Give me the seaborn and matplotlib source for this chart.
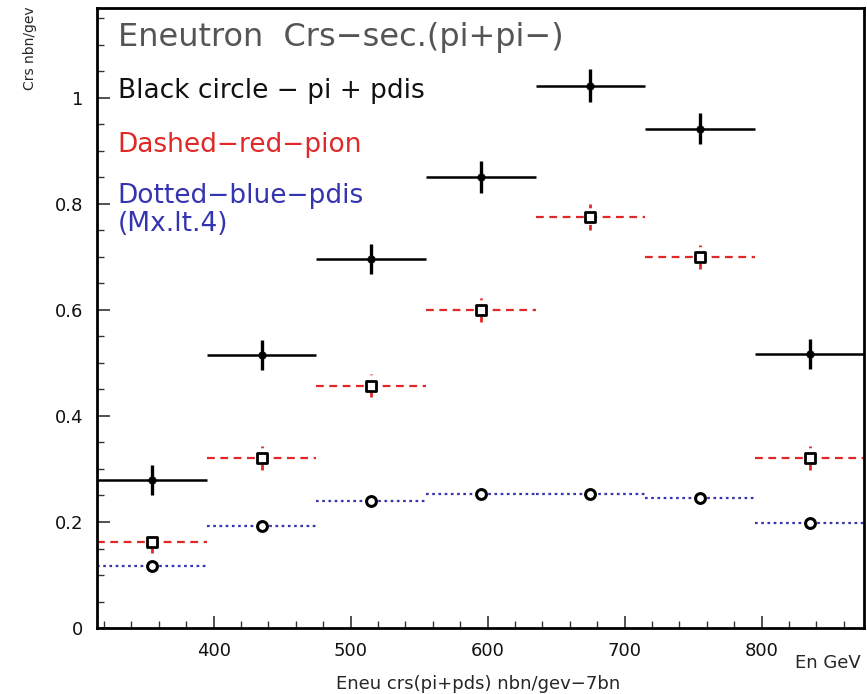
import numpy as np
import pandas as pd
import matplotlib
matplotlib.use("Agg")
import matplotlib.pyplot as plt
import seaborn as sns
from matplotlib.ticker import MultipleLocator

# Energy bins (GeV): centres and half-width
bin_centers = [355, 435, 515, 595, 675, 755, 835]
bin_half_width = 40

# Cross sections per bin
total_xs = [0.279, 0.515, 0.696, 0.851, 1.023, 0.942, 0.517]   # pi + pdis
total_err = [0.028, 0.029, 0.029, 0.030, 0.031, 0.030, 0.029]
pion_xs = [0.162, 0.321, 0.457, 0.600, 0.775, 0.700, 0.321]    # pion
pion_err = [0.020, 0.022, 0.022, 0.023, 0.024, 0.023, 0.022]
pdis_xs = [0.117, 0.192, 0.240, 0.253, 0.253, 0.245, 0.198]    # pdis (Mx < 4)

sns.set_theme(style="ticks")
plt.rcParams["font.family"] = ["DejaVu Sans"]

RED = "#e02828"
BLUE = "#3434b0"

df = pd.DataFrame({
    "E": bin_centers * 3,
    "xs": total_xs + pion_xs + pdis_xs,
    "kind": ["total"] * 7 + ["pion"] * 7 + ["pdis"] * 7,
})

fig = plt.figure(figsize=(8.67, 6.94), dpi=100)
ax = fig.add_axes([0.112, 0.095, 0.885, 0.894])

# horizontal bin bars and vertical errors
for c, y in zip(bin_centers, pdis_xs):
    ax.hlines(y, c - bin_half_width, c + bin_half_width, colors=BLUE,
              linestyles=(0, (1.2, 1.6)), linewidth=1.6)
for c, y, e in zip(bin_centers, pion_xs, pion_err):
    ax.hlines(y, c - bin_half_width, c + bin_half_width, colors=RED,
              linestyles=(0, (3.5, 2.5)), linewidth=1.6)
    ax.vlines(c, y - e, y + e, colors=RED,
              linestyles=(0, (2, 2)), linewidth=2.0)
for c, y, e in zip(bin_centers, total_xs, total_err):
    ax.hlines(y, c - bin_half_width, c + bin_half_width, colors="black",
              linewidth=1.8)
    ax.vlines(c, y - e, y + e, colors="black", linewidth=2.4)

# markers
sns.scatterplot(data=df[df.kind == "total"], x="E", y="xs", ax=ax,
                marker="o", s=30, color="black", edgecolor="black", zorder=5,
                legend=False)
sns.scatterplot(data=df[df.kind == "pion"], x="E", y="xs", ax=ax,
                marker="s", s=55, facecolor="white", edgecolor="black",
                linewidth=2, zorder=5, legend=False)
sns.scatterplot(data=df[df.kind == "pdis"], x="E", y="xs", ax=ax,
                marker="o", s=50, facecolor="white", edgecolor="black",
                linewidth=2.2, zorder=5, legend=False)

ax.set_xlim(315, 875)
ax.set_ylim(0, 1.17)
ax.xaxis.set_major_locator(MultipleLocator(100))
ax.xaxis.set_minor_locator(MultipleLocator(20))
ax.yaxis.set_minor_locator(MultipleLocator(0.05))
ax.set_yticks([0, 0.2, 0.4, 0.6, 0.8, 1.0])
ax.set_yticklabels(["0", "0.2", "0.4", "0.6", "0.8", "1"])
ax.tick_params(axis="both", which="major", direction="in", length=9,
               width=1.2, labelsize=13, pad=10, color="#333333",
               labelcolor="#111111")
ax.tick_params(axis="both", which="minor", direction="in", length=5,
               width=1.0, color="#333333")
ax.tick_params(top=False, right=False, which="both")
for s in ax.spines.values():
    s.set_visible(True)
    s.set_linewidth(2.0)
    s.set_color("black")
ax.set_xlabel("")
ax.set_ylabel("")

ax.text(0.027, 0.952, "Eneutron  Crs\u2212sec.(pi+pi\u2212)", transform=ax.transAxes,
        fontsize=23, color="#555555", va="center", ha="left")
ax.text(0.027, 0.866, "Black circle \u2212 pi + pdis", transform=ax.transAxes,
        fontsize=19, color="#111111", va="center", ha="left")
ax.text(0.027, 0.779, "Dashed\u2212red\u2212pion", transform=ax.transAxes,
        fontsize=19, color=RED, va="center", ha="left")
ax.text(0.027, 0.697, "Dotted\u2212blue\u2212pdis", transform=ax.transAxes,
        fontsize=19, color=BLUE, va="center", ha="left")
ax.text(0.027, 0.652, "(Mx.lt.4)", transform=ax.transAxes,
        fontsize=19, color=BLUE, va="center", ha="left")

fig.text(30 / 867, 1 - 48 / 694, "Crs nbn/gev", rotation=90, fontsize=10,
         ha="center", va="center")
fig.text(478 / 867, 1 - 684 / 694, "Eneu crs(pi+pds) nbn/gev\u22127bn",
         fontsize=13, ha="center", va="center")
fig.text(828 / 867, 1 - 663 / 694, "En GeV", fontsize=13,
         ha="center", va="center")

fig.savefig("out.png", dpi=100)
